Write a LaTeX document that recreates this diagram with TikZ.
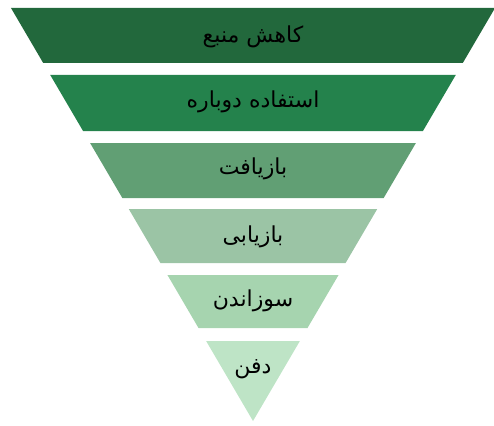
\documentclass[tikz,border=0pt]{standalone}
\usepackage{fontspec}
\newfontfamily\arabicfont[Script=Arabic]{DejaVu Sans}
\TeXXeTstate=1
\definecolor{bandA}{RGB}{34,104,60}
\definecolor{bandB}{RGB}{36,130,76}
\definecolor{bandC}{RGB}{97,159,116}
\definecolor{bandD}{RGB}{155,196,165}
\definecolor{bandE}{RGB}{166,212,175}
\definecolor{bandF}{RGB}{190,228,198}

\begin{document}
\begin{tikzpicture}[x=1pt,y=-1pt,
    bandtext/.style={font=\arabicfont\fontsize{22}{26}\selectfont,text=black}]
    \useasboundingbox (0,0) rectangle (494,425);
    % one band per row: top, bottom, colour
    \foreach \t/\b/\c in {8/63/bandA,75/131/bandB,143/198/bandC,209/263/bandD,275/328/bandE,341/421/bandF}
    \fill[\c] ({253-0.586*(421-\t)},\t) -- ({253+0.586*(421-\t)},\t)
        -- ({253+0.586*(421-\b)},\b) -- ({253-0.586*(421-\b)},\b) -- cycle;
    \node[bandtext] (reduce)  at (253,37)  {\beginR کاهش منبع\endR};
    \node[bandtext] (reuse)   at (253,102) {\beginR استفاده دوباره\endR};
    \node[bandtext] (recycle) at (253,169) {\beginR بازیافت\endR};
    \node[bandtext] (recover) at (253,237) {\beginR بازیابی\endR};
    \node[bandtext] (burn)    at (253,301) {\beginR سوزاندن\endR};
    \node[bandtext] (bury)    at (253,369) {\beginR دفن\endR};
  \end{tikzpicture}
\end{document}
